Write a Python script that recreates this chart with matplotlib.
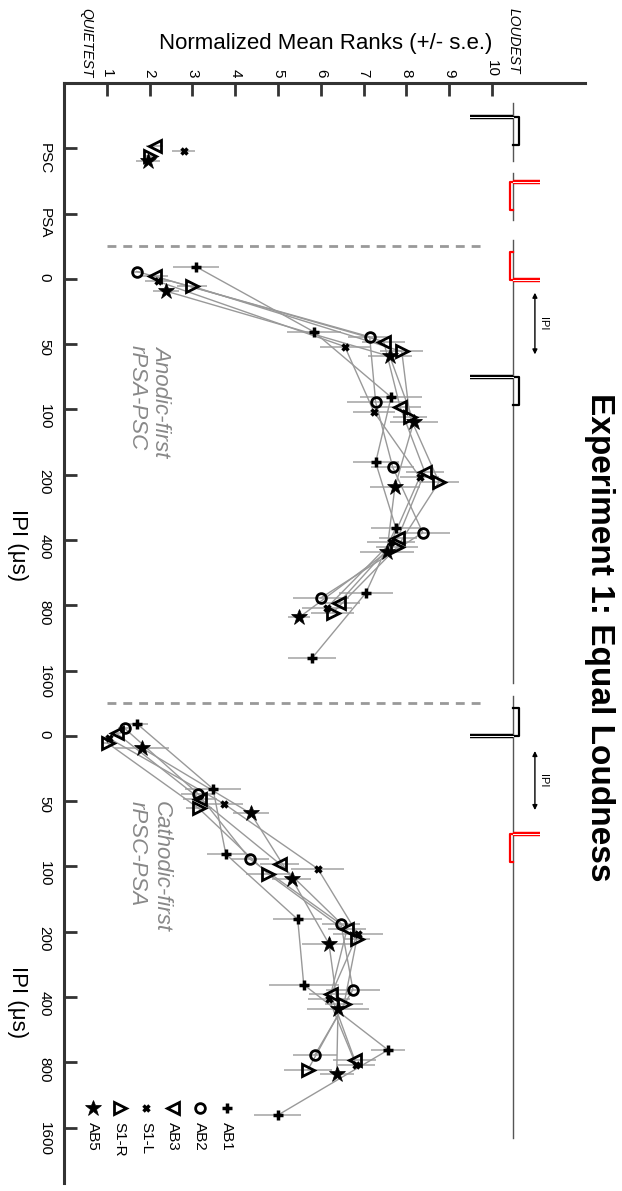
import numpy as np
import matplotlib
matplotlib.use('Agg')
import matplotlib.pyplot as plt

plt.rcParams['font.family'] = ['Liberation Sans', 'DejaVu Sans']

nan = np.nan

categories = ['PSC', 'PSA', '0', '50', '100', '200', '400', '800', '1600',
              '0', '50', '100', '200', '400', '800', '1600']
subjects = ['AB1', 'AB2', 'AB3', 'S1-L', 'S1-R', 'AB5']

# normalized mean ranks, same order as categories
ab1 = [nan, nan, 3.08, 5.84, 7.64, 7.28, 7.75, 7.05, 5.79, 1.70, 3.48, 3.78, 5.46, 5.60, 7.57, 4.99]
ab2 = [nan, nan, 1.70, 7.14, 7.28, 7.68, 8.38, 6.00, nan, 1.42, 3.13, 4.34, 6.47, 6.75, 5.86, nan]
ab3 = [2.12, nan, 2.12, 7.47, 7.85, 8.43, 7.80, 6.42, nan, 1.23, 3.17, 5.04, 6.61, 6.23, 6.79, nan]
s1l = [2.80, nan, 2.19, 6.56, 7.24, 8.31, 7.64, 6.14, nan, 1.05, 3.73, 5.93, 6.86, 6.19, 6.82, nan]
s1r = [2.00, nan, 2.99, 7.89, 8.08, 8.76, 7.78, 6.28, nan, 1.02, 3.15, 4.76, 6.84, 6.54, 5.70, nan]
ab5 = [1.96, nan, 2.38, 7.61, 8.17, 7.73, 7.54, 5.49, nan, 1.82, 4.36, 5.32, 6.19, 6.40, 6.37, nan]

# standard errors
ab1_se = [nan, nan, 0.54, 0.62, 0.72, 0.54, 0.58, 0.63, 0.56, 0.26, 0.66, 0.44, 0.57, 0.82, 0.40, 0.55]
ab2_se = [nan, nan, 0.10, 0.50, 0.68, 0.50, 0.63, 0.65, nan, 0.15, 0.40, 0.45, 0.45, 0.63, 0.51, nan]
ab3_se = [0.20, nan, 0.30, 0.50, 0.50, 0.45, 0.45, 0.50, nan, 0.10, 0.40, 0.45, 0.45, 0.50, 0.50, nan]
s1l_se = [0.27, nan, 0.30, 0.58, 0.50, 0.45, 0.56, 0.58, nan, 0.10, 0.45, 0.62, 0.58, 0.50, 0.45, nan]
s1r_se = [0.15, nan, 0.35, 0.50, 0.40, 0.47, 0.50, 0.50, nan, 0.10, 0.30, 0.50, 0.30, 0.45, 0.56, nan]
ab5_se = [0.28, nan, 0.30, 0.52, 0.56, 0.58, 0.63, 0.26, nan, 0.63, 0.42, 0.45, 0.63, 0.73, 0.40, nan]

ranks = [ab1, ab2, ab3, s1l, s1r, ab5]
errs = [ab1_se, ab2_se, ab3_se, s1l_se, s1r_se, ab5_se]
markers = [
    dict(marker='+', ms=7, mew=2.5, mfc='k'),
    dict(marker='o', ms=7, mew=2, mfc='none'),
    dict(marker='<', ms=8, mew=2, mfc='none'),
    dict(marker='x', ms=5, mew=2.5, mfc='k'),
    dict(marker='>', ms=8, mew=2, mfc='none'),
    dict(marker='*', ms=12, mew=0.5, mfc='k'),
]
groups = [(2, 9), (9, 16)]

gray = '#999999'
fig = plt.figure(figsize=(6.22, 11.91), dpi=100)
ax = fig.add_axes([64 / 622, 1 - 1183 / 1191, 521 / 622, 1100 / 1191])

pos = np.arange(len(categories))
for i, name in enumerate(subjects):
    y = pos + (i - 2.5) * 0.075
    r = np.array(ranks[i])
    e = np.array(errs[i])
    for a, b in groups:
        ax.plot(r[a:b], y[a:b], color=gray, lw=1, zorder=2)
    ax.errorbar(r, y, xerr=e, fmt='none', ecolor='#aaaaaa', elinewidth=1.2, capsize=0, zorder=1)
    ax.plot(r, y, ls='none', mec='k', color='k', zorder=3, **markers[i])

# dashed separators
for yy in [1.5, 8.5]:
    ax.plot([1, 9.83], [yy, yy], color=gray, lw=2, dashes=(3.2, 2.5), zorder=1)

ax.text(2.0, 3.02, 'Anodic-first\nrPSA-PSC', rotation=-90, ha='center', va='top',
        multialignment='left', style='italic', color='#888888', fontsize=16)
ax.text(2.0, 10.0, 'Cathodic-first\nrPSC-PSA', rotation=-90, ha='center', va='top',
        multialignment='left', style='italic', color='#888888', fontsize=16)

# stimulus schematic
x0 = 10.49
for y1, y2 in [(-0.69, 0.2), (0.38, 1.1), (1.41, 8.19), (8.39, 15.16)]:
    ax.plot([x0, x0], [y1, y2], color='#555555', lw=1, clip_on=False)


def pulse(ystart, color, side, amp, low, high_first):
    dur = 0.43
    if high_first:
        yh, yl1, yl2 = ystart, ystart, ystart + dur
    else:
        yh, yl1, yl2 = ystart + dur, ystart, ystart + dur
    ax.plot([x0, x0 + side * amp], [yh, yh], color=color, lw=3.2,
            solid_capstyle='butt', clip_on=False, zorder=4)
    ax.plot([x0, x0 + side * amp], [yh, yh], color='white', lw=0.7, clip_on=False, zorder=5)
    xl = x0 - side * low
    ax.plot([x0, xl, xl, x0], [yl1, yl1, yl2, yl2], color=color, lw=1.6, clip_on=False, zorder=4)


pulse(-0.475, 'black', -1, 1.0, 0.14, True)
pulse(0.52, 'red', 1, 0.63, 0.07, True)
pulse(1.59, 'red', 1, 0.63, 0.07, False)
pulse(3.50, 'black', -1, 1.0, 0.14, True)
pulse(8.58, 'black', -1, 1.0, 0.14, False)
pulse(10.50, 'red', 1, 0.63, 0.07, True)

for ya, yb in [(2.17, 3.2), (9.19, 10.18)]:
    ax.annotate('', xy=(11.0, ya), xytext=(11.0, yb), annotation_clip=False,
                arrowprops=dict(arrowstyle='<|-|>', color='k', lw=1, mutation_scale=7))
    ax.text(11.2, (ya + yb) / 2, 'IPI', rotation=-90, ha='center', va='center', fontsize=8)

# legend
for i, name in enumerate(subjects):
    xl = 3.80 - i * 0.625
    ax.plot([xl], [14.70], ls='none', mec='k', color='k', clip_on=False, **markers[i])
    ax.text(xl, 14.92, name, rotation=-90, ha='center', va='top', fontsize=11)

ax.set_xlim(0, 12.17)
ax.set_ylim(15.85, -1)
ax.xaxis.tick_top()
ax.set_xticks(range(1, 11))
ax.set_xticklabels([str(k) for k in range(1, 11)], rotation=-90, fontsize=11)
ax.set_yticks(pos)
ax.set_yticklabels(categories, rotation=-90, fontsize=11)
for s in ['right', 'bottom']:
    ax.spines[s].set_visible(False)
for s in ['left', 'top']:
    ax.spines[s].set_linewidth(2.2)
    ax.spines[s].set_color('#333333')
ax.tick_params(axis='x', direction='in', length=9, width=2, color='#333333', pad=4)
ax.tick_params(axis='y', direction='in', length=9, width=2, color='#333333', pad=9)

fig.text(326 / 622, 1 - 44 / 1191, 'Normalized Mean Ranks (+/- s.e.)', ha='center', va='center', fontsize=16)
fig.text(86 / 622, 1 - 8 / 1191, 'QUIETEST', rotation=-90, ha='center', va='top', style='italic', fontsize=10)
fig.text(514 / 622, 1 - 8 / 1191, 'LOUDEST', rotation=-90, ha='center', va='top', style='italic', fontsize=10)
fig.text(600 / 622, 1 - 637 / 1191, 'Experiment 1: Equal Loudness', rotation=-90, ha='center', va='center',
         fontsize=24, weight='bold')
for yc in [545, 1002]:
    fig.text(17 / 622, 1 - yc / 1191, 'IPI (\u03bcs)', rotation=-90, ha='center', va='center', fontsize=16)

fig.savefig('out.png', dpi=100)
